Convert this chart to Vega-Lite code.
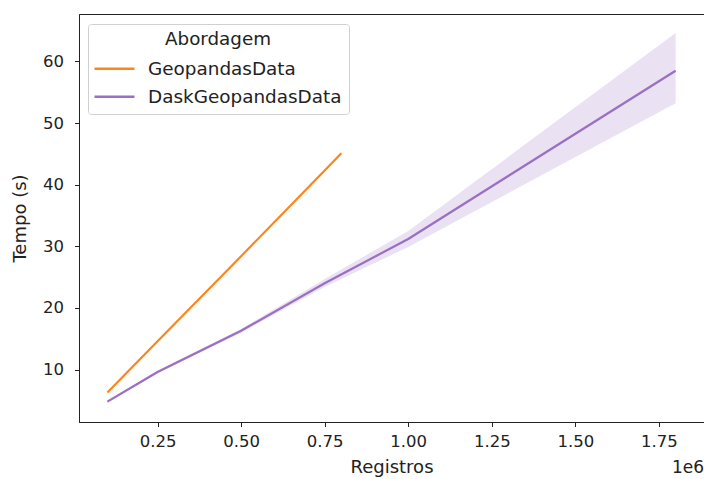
{
  "$schema": "https://vega.github.io/schema/vega-lite/v6.json",
  "width": 625,
  "height": 408,
  "autosize": {"type": "none"},
  "padding": {"left": 79, "top": 14, "right": 0, "bottom": 57},
  "background": "white",
  "config": {
    "font": "DejaVu Sans",
    "view": {"stroke": "#222", "strokeWidth": 1},
    "axis": {
      "grid": false,
      "domainColor": "#222",
      "tickColor": "#222",
      "labelColor": "#222",
      "titleColor": "#222",
      "labelFontSize": 16.5,
      "titleFontSize": 18,
      "titleFontWeight": "normal",
      "tickSize": 4.5
    }
  },
  "datasets": {
    "lines": [
      {"Registros": 100000, "Tempo": 6.3, "Abordagem": "GeopandasData"},
      {"Registros": 250000, "Tempo": 14.6, "Abordagem": "GeopandasData"},
      {"Registros": 500000, "Tempo": 28.4, "Abordagem": "GeopandasData"},
      {"Registros": 750000, "Tempo": 42.3, "Abordagem": "GeopandasData"},
      {"Registros": 800000, "Tempo": 45.1, "Abordagem": "GeopandasData"},
      {"Registros": 100000, "Tempo": 4.8, "lo": 4.6, "hi": 5.0, "Abordagem": "DaskGeopandasData"},
      {"Registros": 250000, "Tempo": 9.6, "lo": 9.4, "hi": 9.8, "Abordagem": "DaskGeopandasData"},
      {"Registros": 500000, "Tempo": 16.3, "lo": 16.0, "hi": 16.6, "Abordagem": "DaskGeopandasData"},
      {"Registros": 750000, "Tempo": 24.0, "lo": 23.4, "hi": 24.7, "Abordagem": "DaskGeopandasData"},
      {"Registros": 1000000, "Tempo": 31.2, "lo": 29.9, "hi": 32.5, "Abordagem": "DaskGeopandasData"},
      {"Registros": 1800000, "Tempo": 58.5, "lo": 53.2, "hi": 64.6, "Abordagem": "DaskGeopandasData"}
    ]
  },
  "layer": [
    {
      "data": {"name": "lines"},
      "transform": [{"filter": "datum.Abordagem === 'DaskGeopandasData'"}],
      "mark": {"type": "area", "color": "#9467bd", "opacity": 0.2},
      "encoding": {
        "x": {"field": "Registros", "type": "quantitative"},
        "y": {"field": "lo", "type": "quantitative"},
        "y2": {"field": "hi"}
      }
    },
    {
      "data": {"name": "lines"},
      "mark": {"type": "line", "strokeWidth": 2.2},
      "encoding": {
        "x": {
          "field": "Registros",
          "type": "quantitative",
          "title": "Registros",
          "scale": {"domain": [15000, 1885000], "nice": false, "zero": false},
          "axis": {
            "values": [250000, 500000, 750000, 1000000, 1250000, 1500000, 1750000],
            "labelExpr": "format(datum.value / 1000000, '.2f')",
            "labelPadding": 7,
            "titlePadding": 8
          }
        },
        "y": {
          "field": "Tempo",
          "type": "quantitative",
          "title": "Tempo (s)",
          "scale": {"domain": [1.5, 67.7], "nice": false, "zero": false},
          "axis": {"values": [10, 20, 30, 40, 50, 60], "labelPadding": 11, "titlePadding": 13}
        },
        "color": {
          "field": "Abordagem",
          "type": "nominal",
          "scale": {"domain": ["GeopandasData", "DaskGeopandasData"], "range": ["#ff851b", "#9a6fc4"]},
          "legend": {
            "orient": "none",
            "legendX": 9,
            "legendY": 10,
            "title": "Abordagem",
            "titleAnchor": "middle",
            "titleFontSize": 18.3,
            "titleFontWeight": "normal",
            "titleColor": "#222",
            "titlePadding": 8,
            "labelFontSize": 18.4,
            "labelColor": "#222",
            "labelLimit": 400,
            "symbolType": "M-2,0L2,0",
            "symbolSize": 400,
            "symbolStrokeWidth": 2.5,
            "symbolOffset": 8,
            "labelOffset": 22,
            "rowPadding": 7,
            "padding": 7,
            "fillColor": "white",
            "strokeColor": "#d0d0d0",
            "cornerRadius": 3
          }
        }
      }
    },
    {
      "data": {"values": [{"label": "1e6", "x": 1885000, "y": -6.0}]},
      "mark": {"type": "text", "align": "right", "baseline": "middle", "fontSize": 17, "color": "#222", "clip": false},
      "encoding": {
        "x": {"field": "x", "type": "quantitative"},
        "y": {"field": "y", "type": "quantitative"},
        "text": {"field": "label"}
      }
    }
  ]
}
